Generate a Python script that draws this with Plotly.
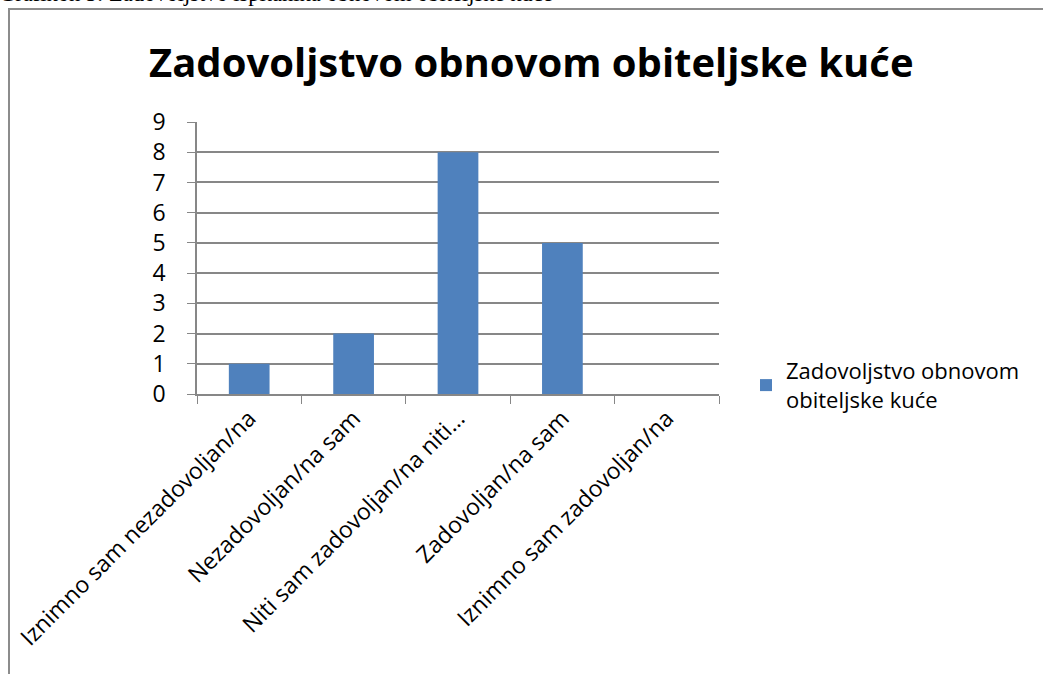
import plotly.graph_objects as go

categories = [
    "Iznimno sam nezadovoljan/na",
    "Nezadovoljan/na sam",
    "Niti sam zadovoljan/na niti…",
    "Zadovoljan/na sam",
    "Iznimno sam zadovoljan/na",
]
counts = [1, 2, 8, 5, 0]
series_name = "Zadovoljstvo obnovom<br>obiteljske kuće"
chart_title = "Zadovoljstvo obnovom obiteljske kuće"
caption = "Grafikon 5: Zadovoljstvo ispitanika obnovom obiteljske kuće"

W, H = 1043, 674
L, R, T, B = 197, 719, 122, 394


def px_x(p):
    return (p - L) / (R - L)


def px_y(q):
    return (B - q) / (B - T)


font = "Open Sans"
grid = "#878787"

fig = go.Figure()
fig.add_trace(go.Bar(x=categories, y=counts, name=series_name,
                     marker=dict(color="#4f81bd", line=dict(width=0))))

fig.update_layout(
    width=W, height=H,
    margin=dict(l=L, r=W - R, t=T, b=H - B, autoexpand=False),
    paper_bgcolor="white", plot_bgcolor="white",
    bargap=0.61,
    showlegend=True,
    font=dict(family=font, size=22, color="black"),
    legend=dict(x=px_x(746), y=px_y(350), xanchor="left", yanchor="top",
                font=dict(size=22), itemwidth=30, bgcolor="rgba(0,0,0,0)"),
    shapes=[dict(type="rect", xref="paper", yref="paper",
                 x0=px_x(9), x1=px_x(1060), y0=px_y(700), y1=px_y(9),
                 line=dict(color="#8c8c8c", width=2), layer="below")],
    annotations=[
        dict(text="<b>" + chart_title + "</b>", xref="paper", yref="paper",
             x=px_x(531), y=px_y(62), xanchor="center", yanchor="middle",
             showarrow=False, font=dict(family=font, size=40, color="black")),
        dict(text=caption, xref="paper", yref="paper", x=px_x(-3), y=px_y(8.5),
             xanchor="left", yanchor="bottom", showarrow=False,
             font=dict(family="Liberation Serif", size=22.5, color="black")),
    ],
)

fig.update_xaxes(type="category", tickangle=-45, tickson="boundaries",
                 ticks="outside", ticklen=8, tickcolor=grid,
                 showline=True, linecolor=grid, linewidth=1.5,
                 showgrid=False, tickfont=dict(size=23))
fig.update_yaxes(range=[0, 9], dtick=1, ticks="outside", ticklen=8,
                 tickcolor=grid, showline=True, linecolor=grid, linewidth=1.5,
                 showgrid=True, gridcolor=grid, gridwidth=1.5,
                 zeroline=False, ticklabelstandoff=17, tickfont=dict(size=23))

# the page body has a default 8px margin; drop it so the figure sits at 0,0
fig.write_html("out.html", config={"displayModeBar": False},
               post_script="document.body.style.margin='0';")
